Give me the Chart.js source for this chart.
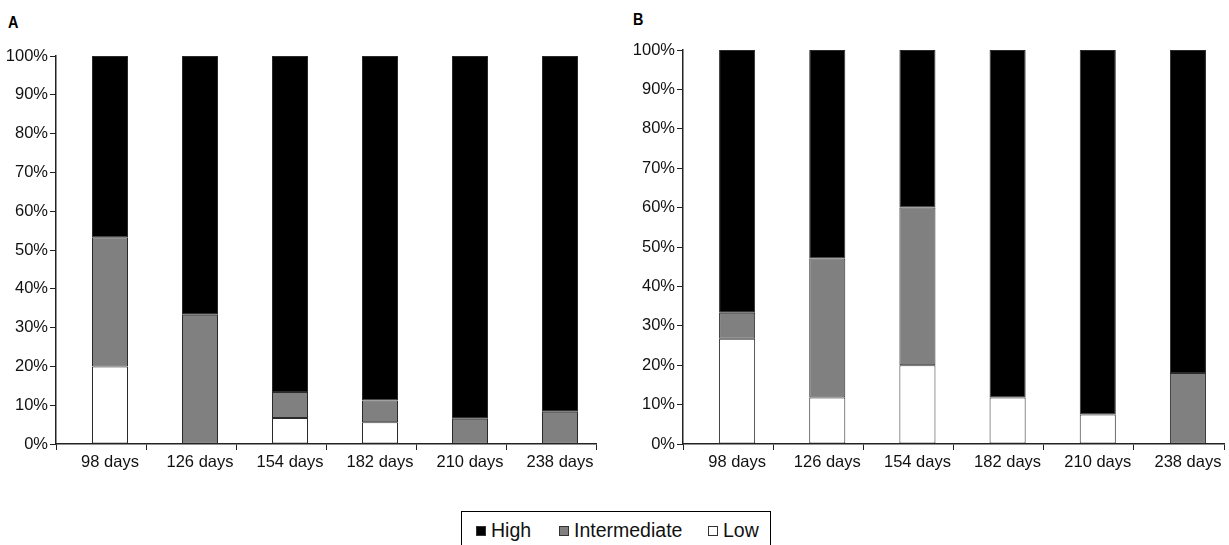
<!DOCTYPE html>
<html>
<head>
<meta charset="utf-8">
<script src="https://cdn.jsdelivr.net/npm/chart.js@4"></script>
<style>
  html, body { margin: 0; padding: 0; background: #fff; }
  body { width: 1229px; height: 545px; position: relative; overflow: hidden; font-family: "Liberation Sans", Arial, sans-serif; }
  .panel { position: absolute; top: 0; height: 480px; }
  .tag { position: absolute; font: bold 17px "Liberation Sans", Arial, sans-serif; color: #000; transform: scaleX(0.85); transform-origin: left top; }
  #legend { position: absolute; left: 461px; top: 511px; width: 310px; height: 40px; border: 1px solid #000; border-bottom: none;
            box-sizing: border-box; font-size: 19.5px; color: #111; }
  #legend .item { position: absolute; top: 6px; height: 24px; line-height: 24px; }
  #legend .box { position: absolute; left: 0; top: 8px; width: 10px; height: 10px; box-sizing: border-box; border: 1px solid #333; }
  #legend .txt { position: absolute; left: 15px; top: 0; white-space: nowrap; }
</style>
</head>
<body>
<div class="tag" style="left:8px; top:13px;">A</div>
<div class="tag" style="left:633px; top:10px;">B</div>
<div class="panel" style="left:0; width:610px;"><canvas id="chartA"></canvas></div>
<div class="panel" style="left:620px; width:609px;"><canvas id="chartB"></canvas></div>
<div id="legend"></div>
<script>
const categories = ['98 days', '126 days', '154 days', '182 days', '210 days', '238 days'];
const yTicks = [0, 10, 20, 30, 40, 50, 60, 70, 80, 90, 100];

const seriesNames = ['High', 'Intermediate', 'Low'];
const seriesColors = ['#000000', '#808080', '#ffffff'];

// panel A (% of animals)
const lowA = [20, 0, 6.7, 5.6, 0, 0];
const intermediateA = [33.3, 33.3, 6.7, 5.6, 6.5, 8.3];
const highA = [46.7, 66.7, 86.6, 88.8, 93.5, 91.7];

// panel B
const lowB = [26.7, 11.8, 20, 11.8, 7.5, 0];
const intermediateB = [6.6, 35.3, 40, 0, 0, 18];
const highB = [66.7, 52.9, 40, 88.2, 92.5, 82];

const FONT = '"Liberation Sans", Arial, sans-serif';
// bars sit a little right of the middle of each tick interval in the original
const xMin = -0.6;
const xMax = categories.length - 0.6;
const boundaries = categories.map((c, i) => i - 0.6).concat([xMax]);

function buildChart(canvasId, low, mid, high, opts) {
    const ds = (label, data, color) => ({
        label,
        data: data.map((v, i) => ({ x: i, y: v })),
        backgroundColor: color,
        borderColor: '#2a2a2a',
        borderWidth: 1,
        borderSkipped: false,
        barPercentage: 0.4,
        categoryPercentage: 1,
        xAxisID: 'x'
    });

    return new Chart(document.getElementById(canvasId), {
        type: 'bar',
        data: {
            datasets: [
                ds(seriesNames[2], low, seriesColors[2]),
                ds(seriesNames[1], mid, seriesColors[1]),
                ds(seriesNames[0], high, seriesColors[0])
            ]
        },
        options: {
            responsive: true,
            maintainAspectRatio: false,
            animation: false,
            layout: { padding: { top: opts.top, right: opts.right, left: 0, bottom: 0 } },
            plugins: { legend: { display: false }, tooltip: { enabled: false } },
            scales: {
                // axis line + tick marks between the groups
                xb: {
                    type: 'linear',
                    position: 'bottom',
                    weight: 0,
                    min: xMin,
                    max: xMax,
                    offset: false,
                    afterBuildTicks: s => { s.ticks = boundaries.map(v => ({ value: v })); },
                    grid: { display: true, drawOnChartArea: false, drawTicks: true, tickLength: 6, tickColor: '#222', offset: false },
                    border: { color: '#222', width: 1.5 },
                    ticks: { display: false },
                    afterFit: s => { s.height = 6; }
                },
                // group labels
                x: {
                    type: 'linear',
                    position: 'bottom',
                    weight: 1,
                    stacked: true,
                    min: xMin,
                    max: xMax,
                    offset: false,
                    afterBuildTicks: s => { s.ticks = categories.map((c, i) => ({ value: i })); },
                    grid: { display: false, drawTicks: false },
                    border: { display: false },
                    ticks: { color: '#111', padding: 3, maxRotation: 0, autoSkip: false, font: { family: FONT, size: 16.5 }, callback: v => categories[v] },
                    afterFit: s => { s.height = 30; }
                },
                y: {
                    stacked: true,
                    min: 0,
                    max: 100,
                    afterBuildTicks: s => { s.ticks = yTicks.map(v => ({ value: v })); },
                    grid: { display: true, drawOnChartArea: false, drawTicks: true, tickLength: 6, tickColor: '#222' },
                    border: { color: '#222', width: 1.5 },
                    ticks: { color: '#111', padding: 2, font: { family: FONT, size: 16.5 }, callback: v => v + '%' },
                    afterFit: s => { s.width = opts.yWidth; }
                }
            }
        }
    });
}

buildChart('chartA', lowA, intermediateA, highA, { top: 56, right: 14, yWidth: 56 });
buildChart('chartB', lowB, intermediateB, highB, { top: 50, right: 5, yWidth: 63 });

// legend
const legend = document.getElementById('legend');
const itemLeft = [14, 97, 246];
seriesNames.forEach((name, i) => {
    const item = document.createElement('div');
    item.className = 'item';
    item.style.left = itemLeft[i] + 'px';
    const box = document.createElement('span');
    box.className = 'box';
    box.style.background = seriesColors[i];
    const txt = document.createElement('span');
    txt.className = 'txt';
    txt.textContent = name;
    item.appendChild(box);
    item.appendChild(txt);
    legend.appendChild(item);
});
</script>
</body>
</html>
